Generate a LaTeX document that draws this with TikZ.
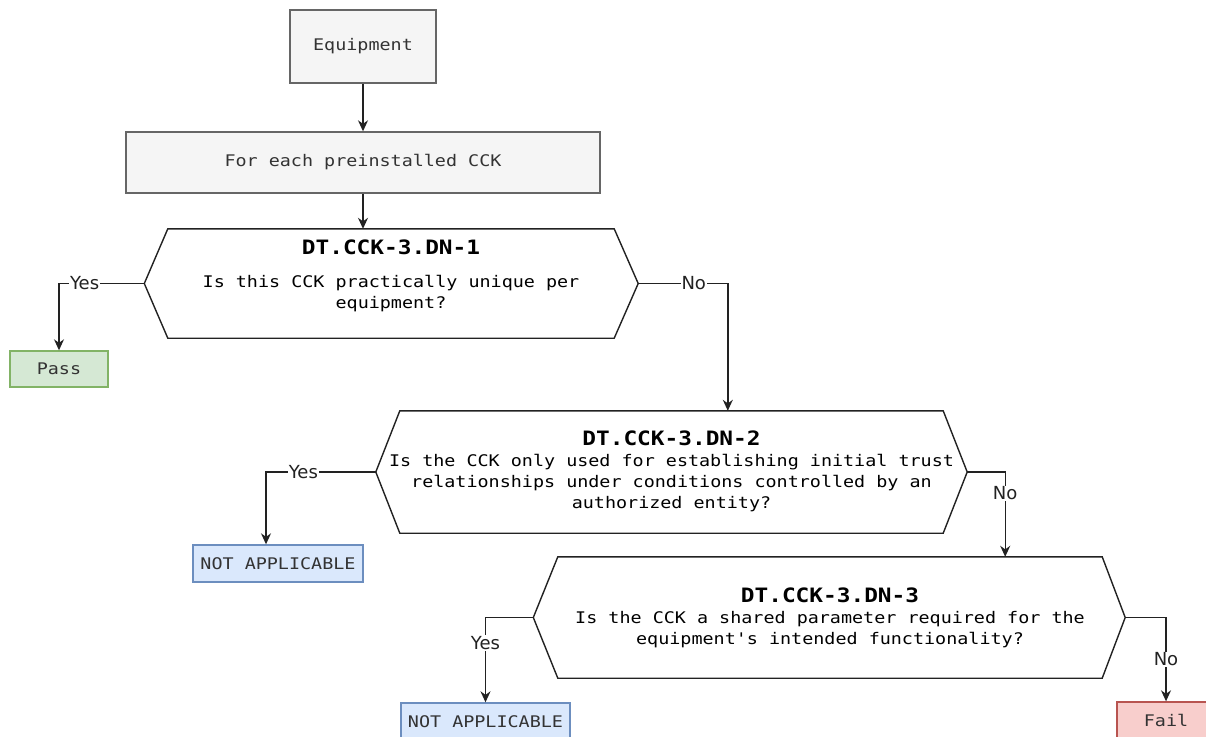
\documentclass[tikz,border=0pt]{standalone}
\usepackage{fontspec}
\setmonofont{DejaVu Sans Mono}[FakeStretch=1.15]
\newfontfamily\lblfont{DejaVu Sans}
\usetikzlibrary{arrows.meta}

\definecolor{grayfill}{HTML}{F5F5F5}
\definecolor{graydraw}{HTML}{666666}
\definecolor{graytext}{HTML}{333333}
\definecolor{greenfill}{HTML}{D5E8D4}
\definecolor{greendraw}{HTML}{82B366}
\definecolor{bluefill}{HTML}{DAE8FC}
\definecolor{bluedraw}{HTML}{6C8EBF}
\definecolor{redfill}{HTML}{F8CECC}
\definecolor{reddraw}{HTML}{B85450}
\definecolor{linecol}{HTML}{222222}

\tikzset{
  monotext/.style={font=\ttfamily\fontsize{16}{21}\selectfont},
  basebox/.style={draw, line width=1.4pt, inner sep=0pt, monotext},
  graybox/.style={basebox, fill=grayfill, draw=graydraw, text=graytext},
  passbox/.style={basebox, fill=greenfill, draw=greendraw, text=graytext},
  nabox/.style={basebox, fill=bluefill, draw=bluedraw, text=graytext},
  failbox/.style={basebox, fill=redfill, draw=reddraw, text=graytext},
  hexcore/.style={inner sep=0pt},
  hexline/.style={draw=linecol, line width=1.4pt, fill=white, line join=miter},
  titletext/.style={font=\ttfamily\bfseries\fontsize{19.8}{22}\selectfont, inner sep=0pt},
  bodytext/.style={monotext, align=center, inner sep=0pt},
  edge/.style={draw=linecol, line width=1.4pt, -{Stealth[length=11pt,width=10pt]}},
  lbl/.style={font=\lblfont\fontsize{18}{20}\selectfont, fill=white, inner sep=1pt, text=linecol},
}

\begin{document}
\begin{tikzpicture}[x=1pt,y=-1pt]
\useasboundingbox (0,0) rectangle (1206,736);

% plain boxes
\node[graybox, minimum width=146pt, minimum height=73pt] (equip) at (363,46.5) {Equipment};
\node[graybox, minimum width=474pt, minimum height=61pt] (foreach) at (363,162.5) {For each preinstalled CCK};
\node[passbox, minimum width=98pt, minimum height=36pt] (pass) at (59,369) {Pass};
\node[nabox, minimum width=170pt, minimum height=37pt] (na1) at (278,563.5) {NOT APPLICABLE};
\node[nabox, minimum width=169pt, minimum height=37pt] (na2) at (485.5,721.5) {NOT APPLICABLE};
\node[failbox, minimum width=98pt, minimum height=37pt] (fail) at (1166,720.5) {Fail};

% decision hexagons: core rectangle plus pointed ends
\node[hexcore, minimum width=446pt, minimum height=109pt] (h1) at (391,283.5) {};
\coordinate (h1l) at ([xshift=-23.5pt]h1.west);
\coordinate (h1r) at ([xshift=24pt]h1.east);
\draw[hexline] (h1.north west) -- (h1.north east) -- (h1r) -- (h1.south east) -- (h1.south west) -- (h1l) -- cycle;

\node[hexcore, minimum width=543pt, minimum height=122pt] (h2) at (671.5,472) {};
\coordinate (h2l) at ([xshift=-24pt]h2.west);
\coordinate (h2r) at ([xshift=24pt]h2.east);
\draw[hexline] (h2.north west) -- (h2.north east) -- (h2r) -- (h2.south east) -- (h2.south west) -- (h2l) -- cycle;

\node[hexcore, minimum width=544pt, minimum height=121pt] (h3) at (830,617.5) {};
\coordinate (h3l) at ([xshift=-24.5pt]h3.west);
\coordinate (h3r) at ([xshift=23pt]h3.east);
\draw[hexline] (h3.north west) -- (h3.north east) -- (h3r) -- (h3.south east) -- (h3.south west) -- (h3l) -- cycle;

% decision texts
\node[titletext] (h1t) at (391,247) {DT.CCK-3.DN-1};
\node[bodytext] (h1b) at (391,294) {Is this CCK practically unique per\\equipment?};
\node[titletext] (h2t) at (671.5,438) {DT.CCK-3.DN-2};
\node[bodytext] (h2b) at (671.5,483) {Is the CCK only used for establishing initial trust\\relationships under conditions controlled by an\\authorized entity?};
\node[titletext] (h3t) at (830,595) {DT.CCK-3.DN-3};
\node[bodytext] (h3b) at (830,629.5) {Is the CCK a shared parameter required for the\\equipment's intended functionality?};

% connectors
\draw[edge] (equip) -- (foreach);
\draw[edge] (foreach.south) -- (foreach.south |- h1.north);
\draw[edge] (h1l) -| node[lbl, pos=0.35] {Yes} (pass.north);
\draw[edge] (h1r) -| node[lbl, pos=0.31] {No} ([xshift=328pt]h2.north west);
\draw[edge] (h2l) -| node[lbl, pos=0.33] {Yes} ([xshift=-12pt]na1.north);
\draw[edge] (h2r) -| node[lbl, pos=0.625] {No} ([xshift=-97pt]h3.north east);
\draw[edge] (h3l) -| node[lbl, pos=0.65] {Yes} (na2.north);
\draw[edge] (h3r) -| node[lbl, pos=0.75] {No} (fail.north);
\end{tikzpicture}
\end{document}
